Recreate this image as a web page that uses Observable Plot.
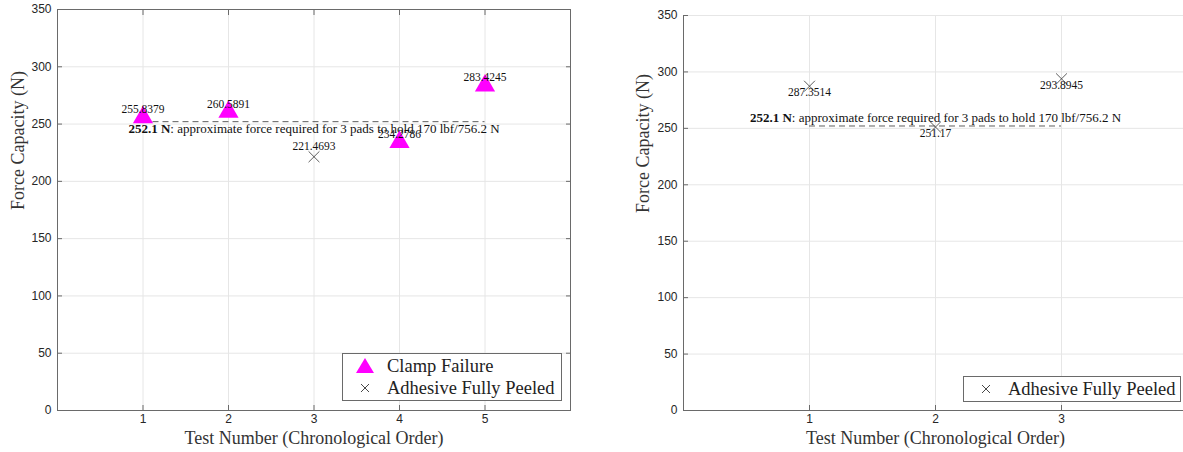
<!DOCTYPE html>
<html>
<head>
<meta charset="utf-8">
<script src="https://cdn.jsdelivr.net/npm/d3@7"></script>
<script src="https://cdn.jsdelivr.net/npm/@observablehq/plot@0.6"></script>
<style>
  html, body { margin: 0; padding: 0; background: #fff; overflow: hidden; }
  #wrap { position: relative; width: 1183px; height: 452px; overflow: hidden; }
  .panel { position: absolute; top: 0; width: 600px; height: 452px; }
  .panel svg { max-width: none !important; }
  .legend { position: absolute; background: #fff; border: 1px solid #6a6a6a; font-family: "Liberation Serif", "Times New Roman", serif; font-size: 18.5px; color: #222; box-sizing: border-box; }
  .legend .row { display: flex; align-items: center; height: 22px; }
  .legend svg { display: block; flex: none; }
  .legend span { font-family: "Liberation Serif", "Times New Roman", serif; white-space: nowrap; }
</style>
</head>
<body>
<div id="wrap"></div>
<script>
// ---- data ----
const clampTests = [1, 2, 4, 5];
const clampForce = [255.8379, 260.5891, 234.2786, 283.4245];
const peeledLeftTests = [3];
const peeledLeftForce = [221.4693];
const peeledRightTests = [1, 2, 3];
const peeledRightForce = [287.3514, 251.17, 293.8945];
const threshold = 252.1;
const thresholdSpanLeft = [1, 5];
const thresholdSpanRight = [1, 3];
const annotationBold = "252.1 N";
const annotationRest = ": approximate force required for 3 pads to hold 170 lbf/756.2 N";
const xTicksLeft = [1, 2, 3, 4, 5];
const xTicksRight = [1, 2, 3];
const yTicks = [0, 50, 100, 150, 200, 250, 300, 350];
const xLabel = "Test Number (Chronological Order)";
const yLabel = "Force Capacity (N)";
const legendClamp = "Clamp Failure";
const legendPeeled = "Adhesive Fully Peeled";

const clampData = clampTests.map((t, i) => ({t, f: clampForce[i]}));
const peeledLeft = peeledLeftTests.map((t, i) => ({t, f: peeledLeftForce[i]}));
const peeledRight = peeledRightTests.map((t, i) => ({t, f: peeledRightForce[i]}));

const SERIF = "Liberation Serif, Times New Roman, serif";
const SANS = "Liberation Sans, Arial, Helvetica, sans-serif";
const AXIS = "#6a6a6a";
const GRID = "#e6e6e6";
const MAG = "#ff00ff";
const intFmt = d3.format("d");

function fmt(v) { return String(v); }

function boldify(svg) {
  svg.querySelectorAll("text").forEach(t => {
    if (t.textContent === annotationBold + annotationRest) {
      t.textContent = "";
      const ns = "http://www.w3.org/2000/svg";
      const b = document.createElementNS(ns, "tspan");
      b.setAttribute("font-weight", "bold");
      b.textContent = annotationBold;
      const r = document.createElementNS(ns, "tspan");
      r.textContent = annotationRest;
      t.appendChild(b); t.appendChild(r);
    }
  });
}

const common = {
  height: 452,
  marginBottom: 42,
  style: {fontFamily: SANS, fontSize: "12px", color: "#262626", background: "transparent", overflow: "visible", maxWidth: "none"},
  y: {domain: [0, 350], ticks: yTicks},
};

// ---- left panel ----
const left = Plot.plot({
  ...common,
  width: 600,
  marginLeft: 57,
  marginRight: 30,
  marginTop: 9,
  x: {domain: [0, 6], ticks: xTicksLeft},
  marks: [
    Plot.gridX(xTicksLeft, {stroke: GRID, strokeOpacity: 1}),
    Plot.gridY(yTicks, {stroke: GRID, strokeOpacity: 1}),
    Plot.frame({stroke: AXIS}),
    Plot.axisX(xTicksLeft, {tickSize: -5, tickPadding: 9, tickFormat: intFmt, stroke: AXIS, fill: "#262626", fontSize: 12, label: null}),
    Plot.axisX(xTicksLeft, {anchor: "top", tickSize: -5, tickFormat: () => "", stroke: AXIS, label: null}),
    Plot.axisY(yTicks, {tickSize: -5, tickPadding: 11, tickFormat: intFmt, stroke: AXIS, fill: "#262626", fontSize: 12, label: null}),
    Plot.axisY(yTicks, {anchor: "right", tickSize: -5, tickFormat: () => "", stroke: AXIS, label: null}),
    Plot.text([xLabel], {frameAnchor: "bottom", lineAnchor: "middle", dy: 28, fontFamily: SERIF, fontSize: 18, fill: "#333"}),
    Plot.text([yLabel], {frameAnchor: "left", dx: -39, rotate: -90, fontFamily: SERIF, fontSize: 18, fill: "#333"}),
    Plot.ruleY([threshold], {x1: thresholdSpanLeft[0], x2: thresholdSpanLeft[1], stroke: "#333", strokeWidth: 0.8, strokeDasharray: "6,4"}),
    Plot.text([annotationBold + annotationRest], {x: 3, y: threshold, dy: 7, fontFamily: SERIF, fontSize: 13, fill: "#111"}),
    Plot.dot(clampData, {x: "t", y: "f", symbol: "triangle", r: 7.5, fill: MAG, stroke: null}),
    Plot.dot(peeledLeft, {x: "t", y: "f", symbol: "times", r: 5, stroke: "#333", strokeWidth: 0.8}),
    Plot.text(clampData, {x: "t", y: "f", text: d => fmt(d.f), dy: -8, fontFamily: SERIF, fontSize: 11.5, fill: "#111"}),
    Plot.text(peeledLeft, {x: "t", y: "f", text: d => fmt(d.f), dy: -10, fontFamily: SERIF, fontSize: 11.5, fill: "#111"})
  ]
});
boldify(left);

// ---- right panel ----
const right = Plot.plot({
  ...common,
  width: 600,
  marginLeft: 83,
  marginRight: 13,
  marginTop: 15,
  x: {domain: [0, 4], ticks: xTicksRight},
  marks: [
    Plot.gridX(xTicksRight, {stroke: GRID, strokeOpacity: 1}),
    Plot.gridY(yTicks, {stroke: GRID, strokeOpacity: 1}),
    Plot.ruleY([0], {stroke: AXIS}),
    Plot.ruleX([0], {stroke: AXIS}),
    Plot.axisX(xTicksRight, {tickSize: -5, tickPadding: 9, tickFormat: intFmt, stroke: AXIS, fill: "#262626", fontSize: 12, label: null}),
    Plot.axisY(yTicks, {tickSize: -5, tickPadding: 11, tickFormat: intFmt, stroke: AXIS, fill: "#262626", fontSize: 12, label: null}),
    Plot.text([xLabel], {frameAnchor: "bottom", lineAnchor: "middle", dy: 28, fontFamily: SERIF, fontSize: 18, fill: "#333"}),
    Plot.text([yLabel], {frameAnchor: "left", dx: -40, rotate: -90, fontFamily: SERIF, fontSize: 18, fill: "#333"}),
    Plot.ruleY([threshold], {x1: thresholdSpanRight[0], x2: thresholdSpanRight[1], stroke: "#333", strokeWidth: 0.8, strokeDasharray: "6,4"}),
    Plot.text([annotationBold + annotationRest], {x: 2, y: threshold, dy: -8, fontFamily: SERIF, fontSize: 13, fill: "#111"}),
    Plot.dot(peeledRight, {x: "t", y: "f", symbol: "times", r: 5, stroke: "#333", strokeWidth: 0.8}),
    Plot.text(peeledRight, {x: "t", y: "f", text: d => fmt(d.f), dy: 6, fontFamily: SERIF, fontSize: 11.5, fill: "#111"})
  ]
});
boldify(right);

const wrap = document.getElementById("wrap");
const p1 = document.createElement("div"); p1.className = "panel"; p1.style.left = "0px"; p1.appendChild(left);
const p2 = document.createElement("div"); p2.className = "panel"; p2.style.left = "600px"; p2.appendChild(right);
wrap.appendChild(p1); wrap.appendChild(p2);

// ---- legends ----
function markerSvg(kind) {
  const ns = "http://www.w3.org/2000/svg";
  const s = document.createElementNS(ns, "svg");
  s.setAttribute("width", 40); s.setAttribute("height", 22);
  if (kind === "tri") {
    const p = document.createElementNS(ns, "path");
    p.setAttribute("d", "M22,3 L31,18 L13,18 Z"); p.setAttribute("fill", MAG);
    s.appendChild(p);
  } else {
    const p = document.createElementNS(ns, "path");
    p.setAttribute("d", "M18,7 L26,15 M26,7 L18,15"); p.setAttribute("stroke", "#333"); p.setAttribute("stroke-width", "0.9");
    s.appendChild(p);
  }
  return s;
}
function legend(entries, box) {
  const d = document.createElement("div");
  d.className = "legend";
  Object.assign(d.style, {left: box[0] + "px", top: box[1] + "px", width: box[2] + "px", height: box[3] + "px", paddingTop: box[4] + "px"});
  entries.forEach(([kind, label]) => {
    const r = document.createElement("div"); r.className = "row";
    r.appendChild(markerSvg(kind));
    const s = document.createElement("span"); s.textContent = label; s.style.marginLeft = "4px";
    r.appendChild(s); d.appendChild(r);
  });
  wrap.appendChild(d);
}
legend([["tri", legendClamp], ["x", legendPeeled]], [342, 353, 220, 48, 1]);
legend([["x", legendPeeled]], [963, 376, 218, 26, 1]);
</script>
</body>
</html>
